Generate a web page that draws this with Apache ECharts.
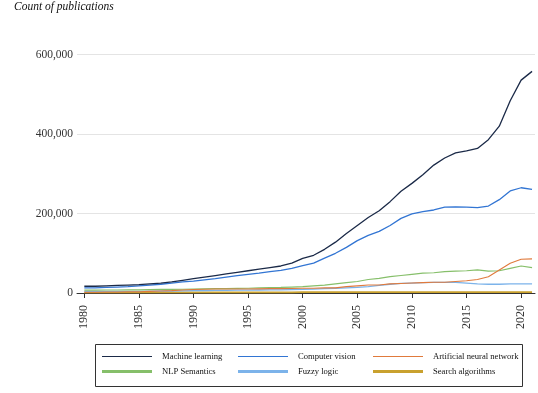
<!DOCTYPE html>
<html>
<head>
<meta charset="utf-8">
<script src="https://cdn.jsdelivr.net/npm/echarts@6/dist/echarts.min.js"></script>
<style>
html,body{margin:0;padding:0;background:#fff;}
#chart{width:538px;height:393px;}
</style>
</head>
<body>
<div id="chart"></div>
<script>
const years = [];
for (let y = 1980; y <= 2021; y++) years.push(y);

const machineLearning = [17000,17000,18000,19000,20000,21000,23000,25000,28000,32000,36000,40000,44000,48000,52000,56000,60000,64000,68000,75000,87000,95000,110000,128000,150000,170000,190000,207000,230000,256000,276000,298000,322000,340000,353000,358000,364000,386000,420000,484000,536000,558000];
const computerVision = [13000,13000,14000,15000,16000,18000,20000,22000,25000,28000,30000,33000,36000,40000,44000,47000,50000,54000,57000,62000,69000,75000,88000,100000,115000,132000,145000,155000,170000,188000,199000,205000,209000,216000,217000,216000,215000,219000,235000,257000,265000,261000];
const annData = [2000,2000,2500,2500,3000,3000,4000,5000,6000,7500,9000,9500,10000,10000,10000,10000,10500,11000,11000,11500,12000,12000,13000,13000,16000,18000,20000,20000,23000,24000,25000,26000,27000,27000,29000,31000,34000,41000,58000,75000,85000,86000];
const nlpSemantics = [7000,7000,7500,7500,8000,8000,8500,9000,9000,9500,10000,10500,11000,11000,11500,12000,13000,13500,14000,15000,16000,18000,20000,23000,26000,29000,34000,37000,41000,44000,47000,50000,51000,54000,55000,56000,58000,55000,56000,62000,68000,64000];
const fuzzyLogic = [4000,4000,4000,4000,4000,4000,4500,5000,5000,5500,6000,6000,6500,6500,7000,7000,7500,8000,8000,8500,9000,10000,11000,12000,13000,14000,16000,19000,22000,24000,25000,26000,27000,27000,27000,25000,23000,22000,22000,23000,23000,23000];
const searchAlgorithms = [1500,1500,1500,1500,1500,1500,1500,1500,1500,1500,1500,1500,1500,1500,1500,1500,1500,1500,1500,1500,2000,2000,2000,2000,2000,2000,2000,2000,2000,2000,2000,2000,2000,2000,2000,2000,2000,2000,2000,2000,2000,2000];

const xTicks = [1980,1985,1990,1995,2000,2005,2010,2015,2020];
const yTicks = [0,200000,400000,600000];

const names = ['Machine learning','Computer vision','Artificial neural network','NLP Semantics','Fuzzy logic','Search algorithms'];
const colors = ['#1b2a48','#3275d3','#e07a3c','#86bf6a','#7cb3ea','#c9a12e'];
const dataSets = [machineLearning, computerVision, annData, nlpSemantics, fuzzyLogic, searchAlgorithms];
const plotWidths = [1.3,1.3,1.1,1.2,1.3,1.8];
const legendIcons = [
  'path://M0,0 L50,0 L50,1.2 L0,1.2 Z',
  'path://M0,0 L50,0 L50,1.2 L0,1.2 Z',
  'path://M0,0 L50,0 L50,1.2 L0,1.2 Z',
  'path://M0,0 L50,0 L50,3 L0,3 Z',
  'path://M0,0 L50,0 L50,3 L0,3 Z',
  'path://M0,0 L50,0 L50,3 L0,3 Z'
];

const serif = '"Liberation Serif","DejaVu Serif",serif';

const series = names.map((n, i) => ({
  name: n,
  type: 'line',
  symbol: 'none',
  smooth: false,
  z: 10 - i,
  lineStyle: { color: colors[i], width: plotWidths[i] },
  itemStyle: { color: colors[i] },
  data: dataSets[i].map((v, k) => [years[k], v])
}));

const legendLeft = [102, 238, 373];
const legendTop = [352, 367];
const legends = names.map((n, i) => ({
  show: true,
  left: legendLeft[i % 3],
  top: legendTop[Math.floor(i / 3)],
  padding: 0,
  itemWidth: 50,
  itemHeight: 10,
  selectedMode: false,
  data: [{ name: n, icon: legendIcons[i], itemStyle: { color: colors[i] } }],
  textStyle: { fontFamily: serif, fontSize: 8.6, color: '#111', padding: [0, 0, 0, 5] }
}));

const chart = echarts.init(document.getElementById('chart'), null, { renderer: 'canvas' });
chart.setOption({
  animation: false,
  backgroundColor: '#fff',
  title: {
    text: 'Count of publications',
    left: 14, top: 1, padding: 0,
    textStyle: { fontFamily: serif, fontStyle: 'italic', fontWeight: 'normal', fontSize: 11.5, color: '#111' }
  },
  legend: legends,
  grid: { left: 77, right: 3, top: 54.7, height: 238.3, containLabel: false },
  xAxis: {
    type: 'value',
    min: 1979.33, max: 2021.27,
    offset: 8,
    axisLine: { show: true, lineStyle: { color: '#333', width: 1 } },
    axisTick: { show: true, length: 5, customValues: xTicks, lineStyle: { color: '#333' } },
    axisLabel: { customValues: xTicks, rotate: 90, margin: 4, fontFamily: serif, fontSize: 12, color: '#333',
      formatter: v => String(v) },
    splitLine: { show: false }
  },
  yAxis: {
    type: 'value',
    min: 0, max: 600000, interval: 200000,
    axisLine: { show: false },
    axisTick: { show: false },
    axisLabel: { margin: 4, fontFamily: serif, fontSize: 11.5, color: '#333',
      formatter: v => v.toLocaleString('en-US') },
    splitLine: { show: true, lineStyle: { color: '#e4e4e4', width: 1 } }
  },
  graphic: [{
    type: 'rect', shape: { x: 95.5, y: 344.5, width: 427, height: 42 },
    style: { fill: 'none', stroke: '#333', lineWidth: 1 }, z: 100, silent: true
  }],
  series: series
});
</script>
</body>
</html>
